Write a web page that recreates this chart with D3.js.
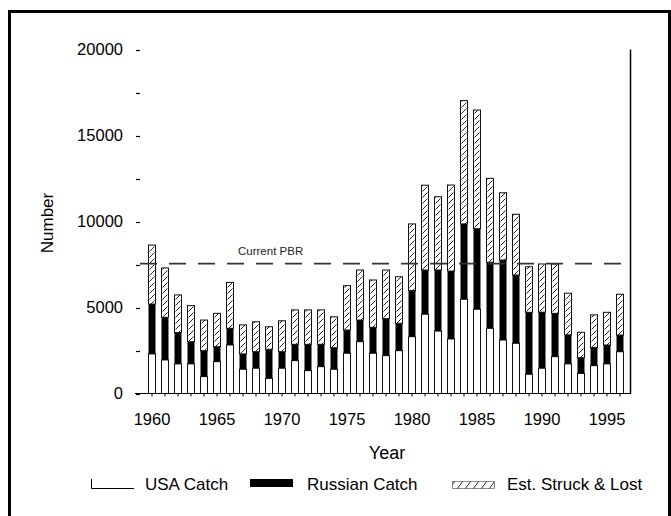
<!DOCTYPE html>
<html>
<head>
<meta charset="utf-8">
<script src="https://cdn.jsdelivr.net/npm/d3@7"></script>
<style>
  html, body { margin: 0; padding: 0; background: #fff; }
  svg { display: block; font-family: "Liberation Sans", Arial, sans-serif; }
</style>
</head>
<body>
<svg id="chart" width="671" height="516"></svg>
<script>
// Harvest by year: USA catch, Russian catch and estimated struck & lost
const years = d3.range(1960, 1997);
const usaCatch = [2300, 1950, 1720, 1720, 980, 1850, 2820, 1410, 1470, 880,
                  1470, 1910, 1330, 1560, 1410, 2340, 3010, 2340, 2200, 2490,
                  3300, 4610, 3630, 3170, 5480, 4900, 3790, 3110, 2920, 1120,
                  1470, 2140, 1720, 1170, 1620, 1720, 2430];
const russianCatch = [2900, 2480, 1820, 1290, 1510, 870, 970, 890, 960, 1690,
                      960, 950, 1530, 1300, 1250, 1350, 1260, 1510, 2150, 1590,
                      2680, 2570, 3550, 3950, 4380, 4680, 3840, 4650, 3970, 3600,
                      3260, 2520, 1690, 910, 1050, 1100, 970];
const struckLost = [3430, 2870, 2190, 2100, 1780, 1940, 2670, 1690, 1740, 1310,
                    1800, 2000, 2000, 2000, 1800, 2580, 2910, 2750, 2830, 2710,
                    3880, 4930, 4260, 5000, 7170, 6900, 4880, 3910, 3530, 2650,
                    2800, 2870, 2420, 1480, 1900, 1900, 2370];
const yTicks = d3.range(0, 20001, 2500);
const yLabels = [0, 5000, 10000, 15000, 20000];
const xLabels = [1960, 1965, 1970, 1975, 1980, 1985, 1990, 1995];
const pbr = 7550;
const seriesNames = ["USA Catch", "Russian Catch", "Est. Struck & Lost"];

const svg = d3.select("#chart");

const x = d3.scalePoint().domain(years).range([152, 620]);
const y = d3.scaleLinear().domain([0, 20000]).range([393.5, 49.5]);
const barW = 8;

// frame
svg.append("path")
  .attr("d", "M9.5,530 V11.5 H669.5 V530")
  .attr("fill", "none").attr("stroke", "#000").attr("stroke-width", 3);

// hatch pattern aligned to the bar grid
const defs = svg.append("defs");
defs.append("pattern")
  .attr("id", "hatch")
  .attr("patternUnits", "userSpaceOnUse")
  .attr("x", x(years[0]) - barW / 2).attr("y", 0)
  .attr("width", x.step()).attr("height", 6)
  .append("line")
  .attr("x1", 1.5).attr("y1", 5.5).attr("x2", 6.5).attr("y2", 0.5)
  .attr("stroke", "#222").attr("stroke-width", 1);
defs.append("pattern")
  .attr("id", "hatchLegend")
  .attr("patternUnits", "userSpaceOnUse")
  .attr("x", 0).attr("y", 481)
  .attr("width", 8).attr("height", 8)
  .append("line")
  .attr("x1", 1).attr("y1", 8).attr("x2", 7).attr("y2", 0)
  .attr("stroke", "#222").attr("stroke-width", 1);

// stacked bars
const data = years.map((yr, i) => ({
  year: yr, usa: usaCatch[i], rus: russianCatch[i], sl: struckLost[i]
}));
const stack = d3.stack().keys(["usa", "rus", "sl"]);
const layers = stack(data);
const fills = { usa: "#fff", rus: "#000", sl: "url(#hatch)" };

const gBars = svg.append("g");
layers.forEach(layer => {
  gBars.selectAll(null)
    .data(layer)
    .join("rect")
    .attr("x", d => x(d.data.year) - barW / 2 + 0.5)
    .attr("y", d => y(d[1]))
    .attr("width", barW - 1)
    .attr("height", d => y(d[0]) - y(d[1]))
    .attr("fill", fills[layer.key])
    .attr("stroke", layer.key === "rus" ? "none" : "#111")
    .attr("stroke-width", 1);
});

// baseline, year ticks and right edge
svg.append("line")
  .attr("x1", 135).attr("x2", 631).attr("y1", y(0)).attr("y2", y(0))
  .attr("stroke", "#000").attr("stroke-width", 1.2);
svg.append("g").selectAll("line")
  .data(years).join("line")
  .attr("x1", d => x(d)).attr("x2", d => x(d))
  .attr("y1", y(0)).attr("y2", y(0) + 3)
  .attr("stroke", "#000").attr("stroke-width", 1);
svg.append("line")
  .attr("x1", 630.5).attr("x2", 630.5).attr("y1", y(20000)).attr("y2", y(0))
  .attr("stroke", "#000").attr("stroke-width", 1.5);

// y ticks and labels
svg.append("g").selectAll("line")
  .data(yTicks).join("line")
  .attr("x1", 136).attr("x2", 140)
  .attr("y1", d => Math.round(y(d)) + 0.5).attr("y2", d => Math.round(y(d)) + 0.5)
  .attr("stroke", "#000").attr("stroke-width", 1.2);
svg.append("g").selectAll("text")
  .data(yLabels).join("text")
  .attr("x", 123).attr("y", d => y(d))
  .attr("dy", "0.35em")
  .attr("text-anchor", "end")
  .attr("font-size", 16.5)
  .text(d => d);

// x labels
svg.append("g").selectAll("text")
  .data(xLabels).join("text")
  .attr("x", d => x(d)).attr("y", 425)
  .attr("text-anchor", "middle")
  .attr("font-size", 16.5)
  .text(d => d);

// axis titles
svg.append("text")
  .attr("x", 387).attr("y", 459)
  .attr("text-anchor", "middle")
  .attr("font-size", 18)
  .text("Year");
svg.append("text")
  .attr("transform", "translate(53,223) rotate(-90)")
  .attr("text-anchor", "middle")
  .attr("font-size", 17)
  .text("Number");

// PBR reference line
svg.append("line")
  .attr("x1", 140).attr("x2", 630).attr("y1", y(pbr)).attr("y2", y(pbr))
  .attr("stroke", "#333").attr("stroke-width", 1.8)
  .attr("stroke-dasharray", "17,12");
svg.append("text")
  .attr("x", 238).attr("y", y(pbr) - 9)
  .attr("font-size", 11.5)
  .attr("fill", "#222")
  .text("Current PBR");

// legend
const lg = svg.append("g");
lg.append("path")
  .attr("d", "M91.5,479 V488.5 H134")
  .attr("fill", "none").attr("stroke", "#000").attr("stroke-width", 1);
lg.append("text").attr("x", 145).attr("y", 490).attr("font-size", 17).text(seriesNames[0]);
lg.append("rect")
  .attr("x", 250).attr("y", 479).attr("width", 43).attr("height", 8)
  .attr("fill", "#000");
lg.append("text").attr("x", 307).attr("y", 490).attr("font-size", 17).text(seriesNames[1]);
lg.append("rect")
  .attr("x", 452.5).attr("y", 481.5).attr("width", 42).attr("height", 7)
  .attr("fill", "url(#hatchLegend)")
  .attr("stroke", "#444").attr("stroke-width", 0.6);
lg.append("text").attr("x", 507).attr("y", 490).attr("font-size", 17).text(seriesNames[2]);
</script>
</body>
</html>
